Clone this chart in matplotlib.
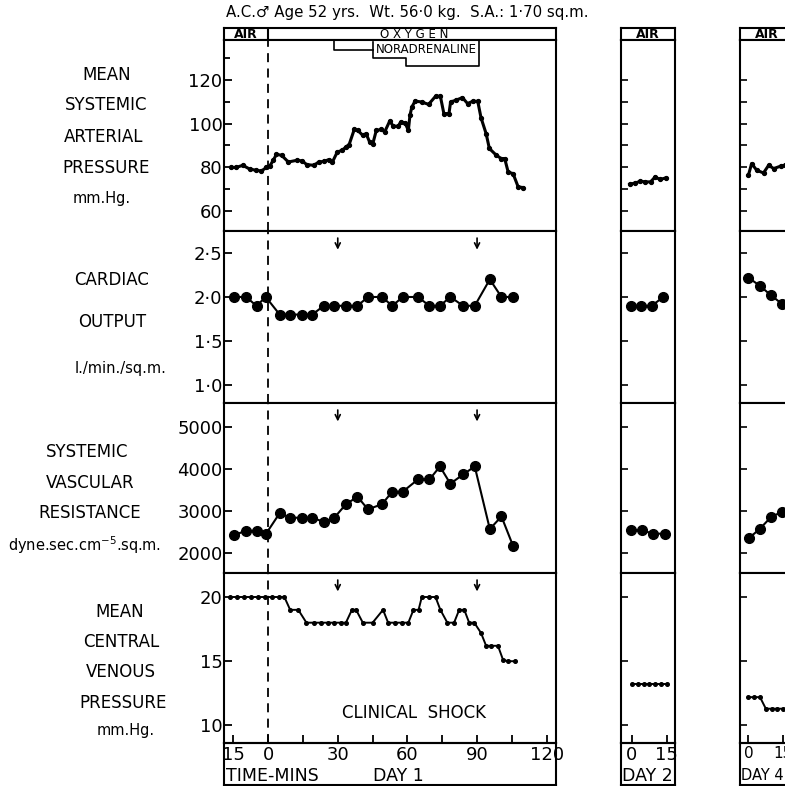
import matplotlib.pyplot as plt

plt.rcParams['font.family'] = ['DejaVu Sans']

W, H = 785, 786

# ---- day 1 (minutes from start of oxygen) ----
msap_t = [-16, -13.8, -10.9, -8, -5.1, -2.9, -0.7, 0.7, 2.2, 3.6, 5.8, 8.7, 12.4, 14.6, 16.7,
          19.7, 21.8, 24, 26.2, 27.7, 29.8, 32, 33.5, 34.9, 37.1, 38.6, 40.8, 42.2, 43.7, 45.1,
          46.6, 48.8, 50.2, 52.4, 53.9, 56, 57.1, 59, 60.4, 61.1, 61.9, 63.3, 66.2, 69.1, 72.1,
          74.2, 75.7, 77.9, 78.6, 80.8, 83.7, 85.9, 88.1, 90.3, 91.7, 93.9, 95.3, 98.3, 100.4,
          101.9, 103.4, 105.5, 107.7, 109.9]
msap_v = [79.9, 79.9, 80.9, 79.2, 78.6, 78.3, 79.9, 80.5, 83.2, 85.9, 85.5, 82.4, 83.2, 82.9, 81.2,
          80.9, 82.4, 82.7, 83.5, 82.4, 87, 87.8, 89.3, 90.4, 97.3, 96.9, 94.6, 95.4, 91.6, 90.8,
          96.9, 97.3, 96.2, 101.2, 98.8, 98.8, 100.7, 100.3, 96.9, 103.8, 107.6, 110.3, 109.9, 108.8, 112.5,
          112.5, 104.6, 104.6, 109.9, 110.7, 111.9, 109.2, 110.2, 110.2, 102.7, 95.4, 88.6, 85.5, 84,
          84, 77.8, 77.1, 71, 70.7]

co_t = [-14.5, -9.5, -5, -1, 5, 9.5, 14.5, 19, 24, 28.5, 33.5, 38.5, 43, 49, 53.5, 58, 64.5,
        69.5, 74, 78.5, 84, 89, 95.5, 100.5, 105.5]
co_v = [2.0, 2.0, 1.9, 2.0, 1.8, 1.8, 1.8, 1.8, 1.9, 1.9, 1.9, 1.9, 2.0, 2.0, 1.9, 2.0, 2.0,
        1.9, 1.9, 2.0, 1.9, 1.9, 2.2, 2.0, 2.0]
svr_v = [2430, 2530, 2530, 2450, 2950, 2840, 2840, 2840, 2740, 2840, 3160, 3340, 3040, 3160,
         3460, 3460, 3750, 3750, 4060, 3650, 3870, 4060, 2570, 2870, 2170]

cvp_t = [-16.5, -13.5, -10.5, -7.5, -4.5, -1.5, 1.5, 4.5, 7, 9.5, 13, 16.5, 19.8, 22.6, 25.6,
         28.4, 31.4, 33.5, 36.1, 37.9, 40.8, 45, 49.5, 51.7, 54.6, 57.5, 60.4, 62.6, 64.8, 66.2,
         69.2, 72.1, 74.2, 77.2, 80.1, 82.3, 84.5, 86.6, 88.8, 91.7, 93.9, 96.1, 99, 101.2, 103.4, 106.3]
cvp_v = [20, 20, 20, 20, 20, 20, 20, 20, 20, 19, 19, 18, 18, 18, 18,
         18, 18, 18, 19, 19, 18, 18, 19, 18, 18, 18, 18, 19, 19, 20,
         20, 20, 19, 18, 18, 19, 19, 18, 18, 17.2, 16.2, 16.2, 16.2, 15.1, 15, 15]

# ---- day 2 ----
d2_msap_t = [-1, 1.5, 3.6, 5.8, 8, 10, 12, 14.5]
d2_msap_v = [72.2, 72.8, 73.6, 73.3, 73.3, 75.6, 74.4, 75.1]
d2_co_t = [-0.5, 4, 8.5, 13.5]
d2_co_v = [1.9, 1.9, 1.9, 2.0]
d2_svr_t = [-0.5, 4.5, 9, 14]
d2_svr_v = [2540, 2540, 2460, 2460]
d2_cvp_t = [0, 2.5, 5, 7.5, 10, 12.5, 15]
d2_cvp_v = [13.2, 13.2, 13.2, 13.2, 13.2, 13.2, 13.2]

# ---- day 4 ----
d4_msap_t = [0, 1.4, 3.6, 6.5, 8.7, 10.9, 13.8, 15.9]
d4_msap_v = [76.3, 81.7, 78.6, 77.4, 80.9, 79.4, 80.5, 80.9]
d4_co_t = [0, 4.8, 9.7, 14.5]
d4_co_v = [2.22, 2.13, 2.02, 1.92]
d4_svr_t = [0.4, 5, 9.8, 14.5]
d4_svr_v = [2360, 2580, 2860, 2980]
d4_cvp_t = [0, 2.5, 5, 7.5, 10, 12.5, 15]
d4_cvp_v = [12.2, 12.2, 12.2, 11.3, 11.3, 11.3, 11.3]

ylims = [(50.8, 138.3), (0.795, 2.75), (1524, 5571), (8.63, 21.87)]
yticks = [[60, 80, 100, 120], [1.0, 1.5, 2.0, 2.5], [2000, 3000, 4000, 5000], [10, 15, 20]]
ylabels = [['60', '80', '100', '120'], ['1·0', '1·5', '2·0', '2·5'],
           ['2000', '3000', '4000', '5000'], ['10', '15', '20']]
yminor = [[70, 90, 110, 130], [], [], []]
right_ticks = [[60, 70, 80, 90, 100, 110, 120], [1.0, 1.5, 2.0, 2.5],
               [2000, 3000, 4000, 5000], [10, 15, 20]]

rows = [(40, 231), (231, 403), (403, 573), (573, 743)]

fig = plt.figure(figsize=(W / 100, H / 100), dpi=100)


def add(x0, y0, x1, y1):
    return fig.add_axes([x0 / W, 1 - y1 / H, (x1 - x0) / W, (y1 - y0) / H])


def frame(ax):
    for s in ax.spines.values():
        s.set_linewidth(1.5)


def draw_series(axs, msap, co, svr, cvp):
    axs[0].plot(msap[0], msap[1], '-o', color='k', lw=2.2, ms=2.8)
    axs[1].plot(co[0], co[1], '-o', color='k', lw=1.5, ms=7)
    axs[2].plot(svr[0], svr[1], '-o', color='k', lw=1.5, ms=7)
    axs[3].plot(cvp[0], cvp[1], '-o', color='k', lw=1.4, ms=2.6)


columns = [
    dict(x0=224, x1=556, xlim=(-19, 124), day='DAY 1', main=True, air=-9.5, fs=13),
    dict(x0=621, x1=675, xlim=(-4.7, 18.5), day='DAY 2', main=False, air=6.9, fs=13),
    dict(x0=740, x1=794, xlim=(-3.6, 19.6), day='DAY 4', main=False, air=8, fs=11),
]
series = [
    ((msap_t, msap_v), (co_t, co_v), (co_t, svr_v), (cvp_t, cvp_v)),
    ((d2_msap_t, d2_msap_v), (d2_co_t, d2_co_v), (d2_svr_t, d2_svr_v), (d2_cvp_t, d2_cvp_v)),
    ((d4_msap_t, d4_msap_v), (d4_co_t, d4_co_v), (d4_svr_t, d4_svr_v), (d4_cvp_t, d4_cvp_v)),
]

for col, data in zip(columns, series):
    x0, x1 = col['x0'], col['x1']
    # top band
    band = add(x0, 28, x1, 40)
    band.set_xlim(col['xlim'])
    band.set_xticks([])
    band.set_yticks([])
    frame(band)
    band.text(col['air'], 0.42, 'AIR', ha='center', va='center', fontsize=9, fontweight='bold')
    if col['main']:
        band.axvline(0, color='k', lw=1.5)
        band.text(63, 0.42, 'O X Y G E N', ha='center', va='center', fontsize=8.5)

    axs = []
    for i, (r0, r1) in enumerate(rows):
        ax = add(x0, r0, x1, r1)
        ax.set_xlim(col['xlim'])
        ax.set_ylim(ylims[i])
        frame(ax)
        if col['main']:
            ax.set_yticks(yticks[i])
            ax.set_yticklabels(ylabels[i], fontsize=13)
            ax.set_yticks(yminor[i], minor=True)
            ax.tick_params(axis='y', which='major', direction='in', length=6, width=1.3, pad=1)
            ax.tick_params(axis='y', which='minor', direction='in', length=4, width=1.3)
            ax.axvline(0, color='k', lw=1.3, ls=(0, (5, 3.5)))
        else:
            ax.set_yticks(right_ticks[i])
            ax.set_yticklabels([])
            ax.tick_params(axis='y', direction='in', length=5, width=1.2)
        ax.set_xticks([])
        axs.append(ax)

    draw_series(axs, *data)

    # bottom band with time axis
    bot = axs[3]
    if col['main']:
        bot.set_xticks([-15, 0, 15, 30, 45, 60, 75, 90, 105, 120])
        bot.set_xticklabels(['15', '0', '', '30', '', '60', '', '90', '', '120'], fontsize=13)
    else:
        bot.set_xticks([0, 15])
        bot.set_xticklabels(['0', '15'], fontsize=col['fs'])
    bot.tick_params(axis='x', direction='in', length=6, width=1.3, pad=2)
    fb = add(x0, 743, x1, 785)
    fb.set_facecolor('none')
    fb.set_xlim(col['xlim'])
    fb.set_xticks([])
    fb.set_yticks([])
    frame(fb)
    if col['main']:
        fb.text(-18, 0.22, 'TIME-MINS', ha='left', va='center', fontsize=12.5)
        fb.text(56, 0.22, 'DAY 1', ha='center', va='center', fontsize=12.5)
    else:
        fb.text(col['xlim'][0] + 0.3, 0.22, col['day'], ha='left', va='center',
                fontsize=col['fs'] - 0.5)

    if col['main']:
        main_axes = axs

# noradrenaline bracket in the top panel
a1 = main_axes[0]
a1.plot([28.5, 28.5, 45], [138.3, 133.5, 133.5], color='k', lw=1.2)
a1.plot([45, 45, 59.6, 59.6, 91, 91], [137.3, 130.2, 130.2, 126.2, 126.2, 138.3], color='k', lw=1.2)
a1.text(68, 134, 'NORADRENALINE', ha='center', va='center', fontsize=8.5)

# arrows at 30 and 90 minutes
for ax in main_axes[1:]:
    for xa in (30, 90):
        ax.annotate('', xy=(xa, 0.875), xytext=(xa, 0.975),
                    xycoords=('data', 'axes fraction'),
                    arrowprops=dict(arrowstyle='->', lw=1.2, color='k', mutation_scale=9))

main_axes[3].text(63, 11, 'CLINICAL  SHOCK', ha='center', va='center', fontsize=12)

# title
fig.text(226 / W, 1 - 13 / H, 'A.C.\u2642 Age 52 yrs.  Wt. 56\u00b70 kg.  S.A.: 1\u00b770 sq.m.',
         ha='left', va='center', fontsize=10.8,
         family=['Liberation Sans Narrow', 'DejaVu Sans'])

# row labels
labels = [
    ('MEAN', 107, 75, 12), ('SYSTEMIC', 106, 105, 12), ('ARTERIAL', 104, 137, 12),
    ('PRESSURE', 106, 168, 12), ('mm.Hg.', 102, 198, 10.5),
    ('CARDIAC', 112, 280, 12), ('OUTPUT', 112, 322, 12), ('l./min./sq.m.', 121, 368, 10.5),
    ('SYSTEMIC', 87, 452, 12), ('VASCULAR', 90, 483, 12), ('RESISTANCE', 90, 513, 12),
    ('dyne.sec.cm$^{-5}$.sq.m.', 84, 545, 10.5),
    ('MEAN', 120, 612, 12), ('CENTRAL', 121, 642, 12), ('VENOUS', 121, 672, 12),
    ('PRESSURE', 123, 703, 12), ('mm.Hg.', 126, 730, 10.5),
]
for txt, x, y, fs in labels:
    fig.text(x / W, 1 - y / H, txt, ha='center', va='center', fontsize=fs)

fig.savefig('out.png', dpi=100)
